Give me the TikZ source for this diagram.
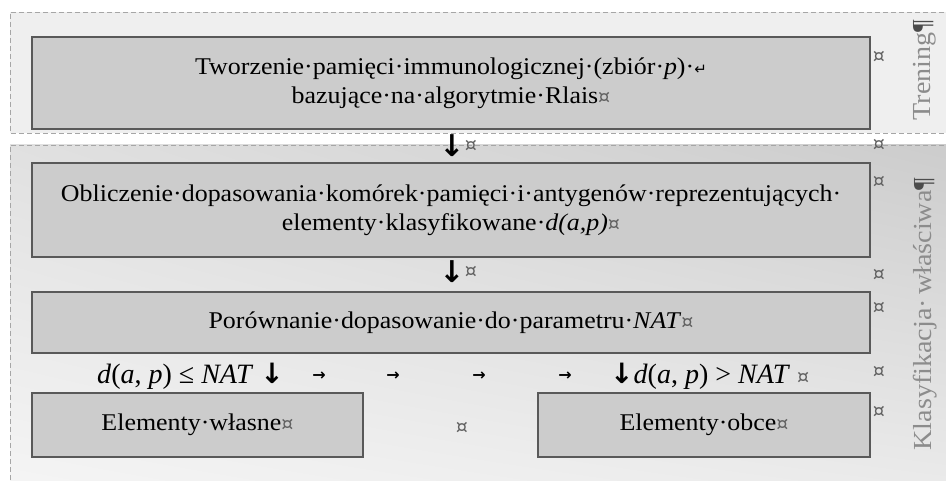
\documentclass[tikz,border=0pt]{standalone}
\usepackage{fontspec}
\setmainfont{Liberation Serif}[FakeStretch=1.08]
\newfontfamily\symf{DejaVu Sans}
\newfontfamily\mathf{Liberation Serif}
\usetikzlibrary{shadings}
\definecolor{boxfill}{HTML}{CCCCCC}
\definecolor{boxdraw}{HTML}{595959}
\definecolor{tfill}{HTML}{EFEFEF}
\definecolor{sidegray}{HTML}{8C8C8C}
\definecolor{markgray}{HTML}{606060}
\newcommand{\cur}{{\color{markgray}\symf\fontsize{19}{19}\selectfont ¤}}
\newcommand{\dar}{{\symf\bfseries ↓}}
\begin{document}
\begin{tikzpicture}[x=1pt,y=-1pt,
  stepbox/.style={draw=boxdraw,line width=1.4pt,fill=boxfill,inner sep=0pt,align=center,
    font=\fontsize{24}{29}\selectfont},
  regionline/.style={draw=gray!70,dash pattern=on 5pt off 3pt,line width=0.8pt},
  curmark/.style={inner sep=0pt,font=\symf\fontsize{19}{19}\selectfont,text=markgray},
  side/.style={rotate=90,inner sep=0pt,text=sidegray,font=\fontsize{26}{26}\selectfont},
  tabar/.style={inner sep=0pt,font=\symf\bfseries\fontsize{16}{16}\selectfont},
  arr/.style={inner sep=0pt,font=\fontsize{30}{30}\selectfont},
  mrow/.style={inner sep=0pt,anchor=base west,font=\mathf\fontsize{28}{28}\selectfont}]
\useasboundingbox (0,0) rectangle (946,481);
\clip (0,0) rectangle (946,481);
% regions
\fill[tfill] (10,12) rectangle (960,133);
\shade[upper left=black!12,upper right=black!20,lower left=black!4,lower right=black!8]
  (10,145) rectangle (960,490);
\draw[regionline] (960,12) -- (10,12) -- (10,133) -- (960,133);
\draw[regionline] (960,145) -- (10,145) -- (10,490);
% boxes
\node[stepbox,minimum width=838pt,minimum height=92pt] (b1) at (451,83)
  {Tworzenie·pamięci·immunologicznej·(zbiór·\textit{p})·{\symf\fontsize{15}{15}\selectfont ↵}\\
   bazujące·na·algorytmie·Rlais\cur};
\node[stepbox,minimum width=838pt,minimum height=94pt] (b2) at (451,210)
  {Obliczenie·dopasowania·komórek·pamięci·i·antygenów·reprezentujących·\\
   elementy·klasyfikowane·\textit{d(a,p)}\cur};
\node[stepbox,minimum width=838pt,minimum height=61pt] (b3) at (451,322.5)
  {Porównanie·dopasowanie·do·parametru·\textit{NAT}\cur};
\node[stepbox,minimum width=331pt,minimum height=64pt] (b4) at (197.5,425)
  {Elementy·własne\cur};
\node[stepbox,minimum width=332pt,minimum height=64pt] (b5) at (704,425)
  {Elementy·obce\cur};
% arrows between boxes (glyphs)
\node[arr] (a1) at (452,146) {\dar};
\node[curmark,anchor=west] (a1m) at (a1.east) {¤};
\node[arr] (a2) at (452,272) {\dar};
\node[curmark,anchor=west] (a2m) at (a2.east) {¤};
% decision row
\node[mrow] (m1) at (97,384) {\textit{d}(\textit{a}, \textit{p}) ≤ \textit{NAT} \dar};
\node[mrow] (m2) at (610,384) {\dar\textit{d}(\textit{a}, \textit{p}) > \textit{NAT} \cur};
\node[tabar] (t1) at (319,376) {→};
\node[tabar] (t2) at (393,376) {→};
\node[tabar] (t3) at (479,376) {→};
\node[tabar] (t4) at (565,376) {→};
\node[curmark] (mid) at (462,428) {¤};
% cell end marks
\foreach \yy/\nm in {57/e1,145/e2,182/e3,275/e4,308/e5,372/e6,412/e7}
  \node[curmark] (\nm) at (879,\yy) {¤};
% side labels
\node[side] (s1) at (925,70) {Trening{\color{black!70}¶}};
\node[side] (s2) at (925,314) {Klasyfikacja·\,właściwa{\color{black!70}¶}};
\end{tikzpicture}
\end{document}
